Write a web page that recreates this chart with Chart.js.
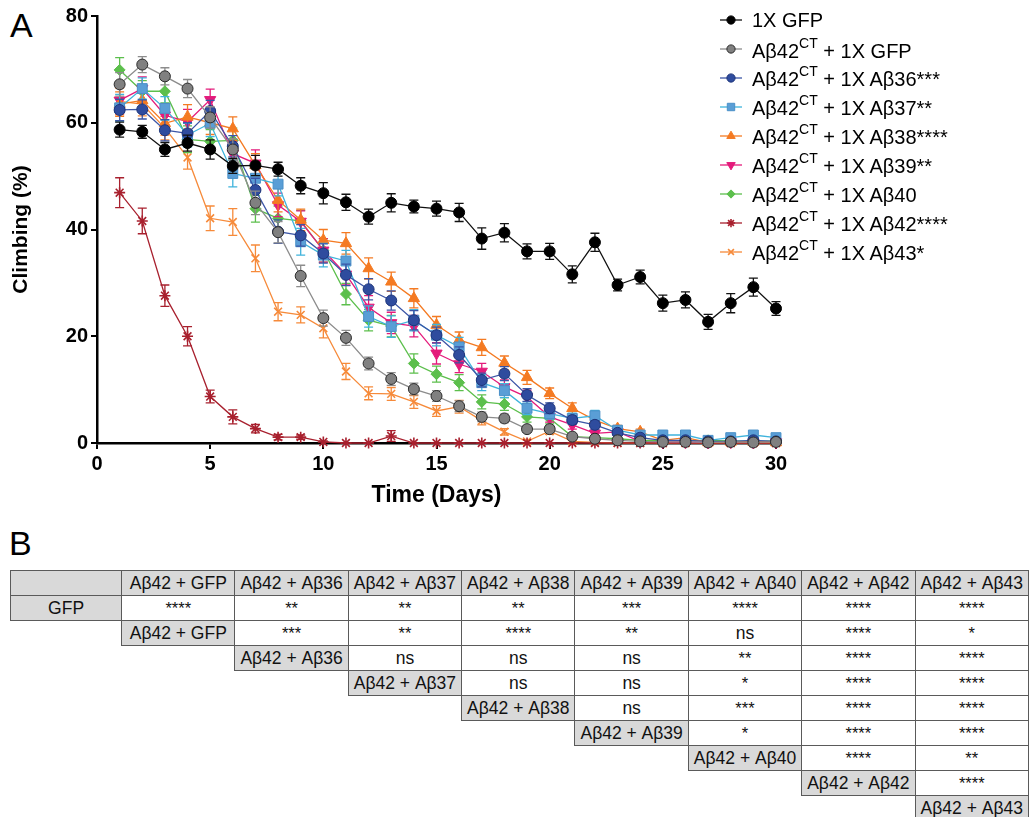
<!DOCTYPE html>
<html>
<head>
<meta charset="utf-8">
<script src="https://cdn.jsdelivr.net/npm/chart.js"></script>
<style>
  body { margin: 0; width: 1029px; height: 817px; overflow: hidden; background: #fff; font-family: Arial, "Liberation Sans", sans-serif; position: relative; }
  .panel { position: absolute; font-size: 34px; line-height: 1; color: #000; }
  #chartBox { position: absolute; left: 0; top: 0; }
  #legend { position: absolute; left: 718px; top: 6px; }
  .lg-row { height: 28.9px; display: flex; align-items: center; font-size: 20px; color: #000; white-space: nowrap; }
  .lg-row canvas { margin-right: 4px; }
  .lg-row sup { font-size: 14px; position: relative; top: -2px; }
  #sigTable { position: absolute; left: 10px; top: 570px; border-collapse: collapse; table-layout: fixed; }
  #sigTable td { height: 24px; padding: 0; text-align: center; font-size: 17.5px; color: #111; border: 1.5px solid #5a5a5a; overflow: hidden; white-space: nowrap; }
  #sigTable td.lab { background: #d9d9d9; }
  #sigTable td.val { background: #fff; }
  #sigTable td.star { font-size: 16.5px; }
  #sigTable td.empty { border: none; }
</style>
</head>
<body>
<div class="panel" style="left:10px; top:8px;">A</div>
<div class="panel" style="left:9px; top:526px;">B</div>
<div id="chartBox"><canvas id="climbChart" width="800" height="520"></canvas></div>
<div id="legend"></div>
<table id="sigTable"></table>

<script>
  // days after eclosion
  const days = [1, 2, 3, 4, 5, 6, 7, 8, 9, 10, 11, 12, 13, 14, 15, 16, 17, 18, 19, 20, 21, 22, 23, 24, 25, 26, 27, 28, 29, 30];

  // climbing (%) per genotype, with SEM
  const gfp = [58.7, 58.3, 55.0, 56.2, 55.0, 51.9, 52.0, 51.3, 48.2, 46.8, 45.1, 42.4, 45.0, 44.3, 43.9, 43.2, 38.3, 39.4, 35.9, 35.9, 31.6, 37.6, 29.6, 31.1, 26.2, 26.8, 22.7, 26.2, 29.2, 25.2];
  const gfpErr = [1.4, 1.2, 1.3, 1.5, 1.8, 1.4, 1.9, 1.3, 1.5, 2.0, 1.5, 1.4, 1.7, 1.2, 1.4, 1.7, 2.0, 1.7, 1.4, 1.5, 1.6, 1.7, 1.1, 1.3, 1.5, 1.5, 1.4, 1.8, 1.7, 1.3];

  const ab42Gfp = [67.2, 70.9, 68.7, 66.4, 61.0, 55.0, 45.0, 39.5, 31.3, 23.4, 19.7, 14.9, 12.0, 10.1, 8.8, 6.9, 4.9, 4.6, 2.6, 2.6, 1.2, 0.8, 0.5, 0.3, 0.2, 0.2, 0.1, 0.2, 0.1, 0.2];
  const ab42GfpErr = [2.2, 1.5, 1.6, 1.7, 2.0, 2.0, 2.2, 2.0, 2.0, 1.5, 1.4, 1.2, 1.2, 1.1, 1.0, 1.0, 0.9, 0.8, 0.6, 0.6, 0.5, 0.4, 0.3, 0.3, 0.2, 0.2, 0.2, 0.2, 0.2, 0.2];

  const ab36 = [62.4, 62.5, 58.6, 58.0, 62.2, 55.6, 47.4, 39.6, 38.9, 35.5, 31.5, 28.8, 26.7, 23.0, 20.2, 16.5, 11.8, 13.0, 9.0, 6.5, 4.3, 3.4, 1.9, 1.0, 0.5, 0.5, 0.3, 0.3, 0.5, 0.3];
  const ab36Err = [2.0, 1.8, 2.0, 2.0, 2.0, 2.0, 2.2, 2.2, 2.0, 1.8, 2.0, 2.0, 1.8, 1.8, 1.5, 1.5, 1.3, 1.3, 1.2, 1.0, 0.8, 0.8, 0.6, 0.5, 0.3, 0.3, 0.3, 0.3, 0.3, 0.3];

  const ab37 = [62.8, 66.4, 62.7, 57.7, 59.9, 50.5, 49.6, 48.5, 37.7, 35.2, 34.1, 23.7, 21.8, 23.0, 20.2, 18.0, 11.3, 9.8, 6.5, 5.5, 4.6, 5.1, 2.4, 1.5, 1.5, 1.5, 0.5, 1.0, 1.5, 1.0];
  const ab37Err = [2.5, 2.0, 2.2, 2.2, 2.5, 2.5, 2.2, 2.2, 2.5, 2.2, 2.0, 2.0, 2.0, 2.0, 2.0, 1.8, 1.5, 1.3, 1.2, 1.0, 1.0, 1.0, 0.8, 0.6, 0.6, 0.6, 0.4, 0.5, 0.5, 0.5];

  const ab38 = [63.5, 64.2, 59.9, 61.1, 60.0, 58.9, 52.0, 45.5, 41.8, 38.0, 37.4, 32.7, 30.2, 27.1, 22.1, 19.3, 17.9, 15.0, 12.3, 9.3, 6.5, 4.3, 2.7, 2.1, 0.5, 1.0, 0.1, 0.2, 0.2, 0.1];
  const ab38Err = [2.3, 2.0, 2.2, 2.3, 2.2, 2.2, 2.2, 2.2, 2.0, 2.0, 2.0, 2.0, 1.8, 1.8, 1.6, 1.5, 1.5, 1.3, 1.3, 1.0, 1.0, 0.8, 0.6, 0.5, 0.3, 0.5, 0.2, 0.2, 0.2, 0.2];

  const ab39 = [64.2, 66.4, 61.4, 60.2, 64.3, 54.2, 52.4, 44.6, 41.5, 36.1, 31.6, 25.4, 22.5, 21.9, 16.8, 14.8, 13.4, 10.5, 8.6, 4.9, 3.4, 1.8, 2.1, 0.3, 0.2, 0.2, 0.1, 0.2, 0.1, 0.2];
  const ab39Err = [2.5, 2.2, 2.2, 2.3, 2.0, 2.2, 2.5, 2.2, 2.0, 2.2, 2.0, 2.2, 2.0, 2.0, 2.0, 1.6, 1.5, 1.3, 1.3, 1.0, 0.8, 0.6, 0.6, 0.3, 0.2, 0.2, 0.2, 0.2, 0.2, 0.2];

  const ab40 = [69.9, 65.9, 65.9, 56.9, 56.5, 56.7, 43.9, 42.1, 41.6, 36.1, 27.9, 23.0, 21.9, 14.9, 12.9, 11.3, 7.7, 7.3, 4.9, 4.6, 1.2, 1.0, 0.8, 0.5, 0.5, 0.4, 0.5, 0.4, 0.3, 0.4];
  const ab40Err = [2.3, 2.0, 2.2, 2.5, 2.2, 2.3, 2.5, 2.3, 2.0, 2.2, 2.0, 2.0, 2.0, 1.8, 1.5, 1.5, 1.3, 1.2, 1.0, 1.0, 0.5, 0.4, 0.3, 0.3, 0.3, 0.3, 0.3, 0.3, 0.3, 0.3];

  const ab42 = [46.9, 41.6, 27.6, 20.0, 8.7, 4.9, 2.7, 1.1, 1.1, 0.2, 0, 0, 1.3, 0, 0, 0, 0, 0, 0, 0, 0, 0, 0, 0, 0, 0, 0, 0, 0, 0];
  const ab42Err = [2.8, 2.4, 2.0, 1.8, 1.2, 1.3, 0.8, 0.5, 0.4, 0.2, 0, 0, 1.0, 0, 0, 0, 0, 0, 0, 0, 0, 0, 0, 0, 0, 0, 0, 0, 0, 0];

  const ab43 = [64.0, 63.5, 59.0, 53.5, 42.1, 41.4, 34.6, 24.6, 24.0, 21.5, 13.4, 9.3, 9.2, 7.7, 6.0, 6.8, 4.2, 2.1, 0.3, 2.2, 0.3, 0.1, 0, 0, 0, 0, 0, 0, 0, 0];
  const ab43Err = [2.5, 2.2, 2.2, 2.2, 2.3, 2.5, 2.5, 1.7, 1.5, 1.8, 1.5, 1.2, 1.2, 1.2, 1.0, 1.2, 0.8, 0.6, 0.3, 0.6, 0.2, 0.1, 0, 0, 0, 0, 0, 0, 0, 0];

  const yTicks = [0, 20, 40, 60, 80];
  const xTicks = [0, 5, 10, 15, 20, 25, 30];

  // legend labels (html so the CT can be superscript)
  const legendLabels = [
    "1X GFP",
    "Aβ42<sup>CT</sup> + 1X GFP",
    "Aβ42<sup>CT</sup> + 1X Aβ36***",
    "Aβ42<sup>CT</sup> + 1X Aβ37**",
    "Aβ42<sup>CT</sup> + 1X Aβ38****",
    "Aβ42<sup>CT</sup> + 1X Aβ39**",
    "Aβ42<sup>CT</sup> + 1X Aβ40",
    "Aβ42<sup>CT</sup> + 1X Aβ42****",
    "Aβ42<sup>CT</sup> + 1X Aβ43*"
  ];

  // panel B: pairwise comparisons
  const colLabels = ["Aβ42 + GFP", "Aβ42 + Aβ36", "Aβ42 + Aβ37", "Aβ42 + Aβ38", "Aβ42 + Aβ39", "Aβ42 + Aβ40", "Aβ42 + Aβ42", "Aβ42 + Aβ43"];
  const rowLabels = ["GFP", "Aβ42 + GFP", "Aβ42 + Aβ36", "Aβ42 + Aβ37", "Aβ42 + Aβ38", "Aβ42 + Aβ39", "Aβ42 + Aβ40", "Aβ42 + Aβ42", "Aβ42 + Aβ43"];
  const sigGfp = ["****", "**", "**", "**", "***", "****", "****", "****"];
  const sigAb42Gfp = ["***", "**", "****", "**", "ns", "****", "*"];
  const sigAb36 = ["ns", "ns", "ns", "**", "****", "****"];
  const sigAb37 = ["ns", "ns", "*", "****", "****"];
  const sigAb38 = ["ns", "***", "****", "****"];
  const sigAb39 = ["*", "****", "****"];
  const sigAb40 = ["****", "**"];
  const sigAb42 = ["****"];
  const sigAb43 = [];

  function pts(vals) {
    return vals.map((v, i) => ({ x: days[i], y: v }));
  }

  function series(label, vals, errs, line, fill, edge, style, radius, rot) {
    return {
      label: label,
      data: pts(vals),
      errors: errs,
      borderColor: line,
      backgroundColor: fill,
      borderWidth: 1.3,
      pointStyle: style,
      pointRadius: radius,
      pointRotation: rot || 0,
      pointBackgroundColor: fill,
      pointBorderColor: edge,
      pointBorderWidth: (style === "star" || style === "crossRot") ? 1.6 : 1,
      tension: 0,
      clip: false
    };
  }

  const datasets = [
    series("1X GFP", gfp, gfpErr, "#111111", "#000000", "#000000", "circle", 5.5),
    series("Ab42CT + 1X GFP", ab42Gfp, ab42GfpErr, "#8c8c8c", "#808080", "#2b2b2b", "circle", 5.5),
    series("Ab42CT + 1X Ab36", ab36, ab36Err, "#3b55a6", "#2f4c9e", "#1d3479", "circle", 5.5),
    series("Ab42CT + 1X Ab37", ab37, ab37Err, "#3fb3dc", "#5a9ed6", "#4a90c8", "rect", 7),
    series("Ab42CT + 1X Ab38", ab38, ab38Err, "#f47a22", "#f47a22", "#f47a22", "triangle", 6.5),
    series("Ab42CT + 1X Ab39", ab39, ab39Err, "#e41b7b", "#e41b7b", "#e41b7b", "triangle", 6.5, 180),
    series("Ab42CT + 1X Ab40", ab40, ab40Err, "#5cbf4c", "#5cbf4c", "#5cbf4c", "rectRot", 5.5),
    series("Ab42CT + 1X Ab42", ab42, ab42Err, "#a8202e", "#a8202e", "#a8202e", "star", 5.5),
    series("Ab42CT + 1X Ab43", ab43, ab43Err, "#f68a3a", "#f68a3a", "#f68a3a", "crossRot", 5.5)
  ];

  // SEM bars, drawn under each dataset
  const errorBars = {
    id: "errorBars",
    beforeDatasetDraw(chart, args) {
      const ds = chart.data.datasets[args.index];
      if (!ds.errors) return;
      const yScale = chart.scales.y;
      const ctx = chart.ctx;
      ctx.save();
      ctx.strokeStyle = ds.borderColor;
      ctx.lineWidth = 1.3;
      args.meta.data.forEach((pt, i) => {
        const e = ds.errors[i];
        if (!e) return;
        const v = ds.data[i].y;
        const yTop = yScale.getPixelForValue(v + e);
        const yBot = yScale.getPixelForValue(Math.max(v - e, 0));
        ctx.beginPath();
        ctx.moveTo(pt.x, yTop); ctx.lineTo(pt.x, yBot);
        ctx.moveTo(pt.x - 4.5, yTop); ctx.lineTo(pt.x + 4.5, yTop);
        if (v - e > 0) { ctx.moveTo(pt.x - 4.5, yBot); ctx.lineTo(pt.x + 4.5, yBot); }
        ctx.stroke();
      });
      ctx.restore();
    }
  };

  const chart = new Chart(document.getElementById("climbChart"), {
    type: "line",
    data: { datasets: datasets },
    options: {
      responsive: false,
      animation: false,
      layout: { padding: { left: 0, top: 16, right: 24, bottom: 0 } },
      plugins: { legend: { display: false }, tooltip: { enabled: false } },
      scales: {
        x: {
          type: "linear",
          min: 0,
          max: 30,
          afterBuildTicks: (axis) => { axis.ticks = xTicks.map(v => ({ value: v })); },
          afterFit: (axis) => { axis.height = 77; },
          ticks: { color: "#000", font: { family: "Arial", size: 20, weight: "bold" }, padding: 3, maxRotation: 0 },
          grid: { drawOnChartArea: false, drawTicks: true, tickLength: 6, color: "#000", lineWidth: 2 },
          border: { display: true, color: "#000", width: 2.5 },
          title: { display: true, text: "Time (Days)", color: "#000", font: { family: "Arial", size: 23, weight: "bold" }, padding: { top: 0, bottom: 11 } }
        },
        y: {
          min: 0,
          max: 80,
          afterBuildTicks: (axis) => { axis.ticks = yTicks.map(v => ({ value: v })); },
          afterFit: (axis) => { axis.width = 97; },
          ticks: { color: "#000", font: { family: "Arial", size: 20, weight: "bold" }, padding: 3 },
          grid: { drawOnChartArea: false, drawTicks: true, tickLength: 6, color: "#000", lineWidth: 2 },
          border: { display: true, color: "#000", width: 2.5 },
          title: { display: true, text: "Climbing (%)", color: "#000", font: { family: "Arial", size: 21, weight: "bold" }, padding: { top: 9, bottom: 0 } }
        }
      }
    },
    plugins: [errorBars]
  });

  // html legend with small canvases for the markers
  const legendBox = document.getElementById("legend");
  datasets.forEach((ds, i) => {
    const row = document.createElement("div");
    row.className = "lg-row";
    const c = document.createElement("canvas");
    c.width = 30; c.height = 20;
    const cx = c.getContext("2d");
    cx.strokeStyle = ds.borderColor;
    cx.lineWidth = 1.3;
    cx.beginPath(); cx.moveTo(2, 10); cx.lineTo(24, 10); cx.stroke();
    cx.fillStyle = ds.pointBackgroundColor;
    cx.strokeStyle = ds.pointBorderColor;
    cx.lineWidth = ds.pointBorderWidth;
    if (Chart.helpers && Chart.helpers.drawPoint) {
      Chart.helpers.drawPoint(cx, { pointStyle: ds.pointStyle, rotation: ds.pointRotation, radius: ds.pointRadius * 0.75, borderWidth: ds.pointBorderWidth }, 13, 10);
    } else {
      cx.beginPath(); cx.arc(13, 10, 4, 0, Math.PI * 2); cx.fill();
    }
    row.appendChild(c);
    const span = document.createElement("span");
    span.innerHTML = legendLabels[i];
    row.appendChild(span);
    legendBox.appendChild(row);
  });

  // significance table
  const sigRows = [sigGfp, sigAb42Gfp, sigAb36, sigAb37, sigAb38, sigAb39, sigAb40, sigAb42, sigAb43];
  const table = document.getElementById("sigTable");
  const colgroup = document.createElement("colgroup");
  for (let c = 0; c < 9; c++) {
    const col = document.createElement("col");
    col.style.width = c === 0 ? "113.5px" : "113.7px";
    colgroup.appendChild(col);
  }
  table.appendChild(colgroup);

  const head = document.createElement("tr");
  const corner = document.createElement("td");
  corner.className = "lab";
  head.appendChild(corner);
  colLabels.forEach(t => {
    const td = document.createElement("td");
    td.className = "lab";
    td.textContent = t;
    head.appendChild(td);
  });
  table.appendChild(head);

  rowLabels.forEach((lab, r) => {
    const tr = document.createElement("tr");
    for (let c = 0; c < r; c++) {
      const td = document.createElement("td");
      td.className = "empty";
      tr.appendChild(td);
    }
    const labTd = document.createElement("td");
    labTd.className = "lab";
    labTd.textContent = lab;
    tr.appendChild(labTd);
    sigRows[r].forEach(s => {
      const td = document.createElement("td");
      td.className = s === "ns" ? "val" : "val star";
      td.textContent = s;
      tr.appendChild(td);
    });
    table.appendChild(tr);
  });
</script>
</body>
</html>
